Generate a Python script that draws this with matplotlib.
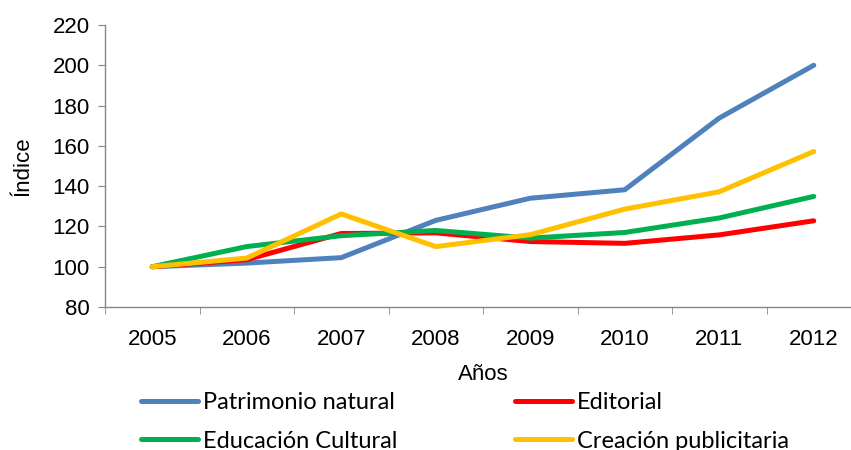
import matplotlib.pyplot as plt
import numpy as np

years = ['2005', '2006', '2007', '2008', '2009', '2010', '2011', '2012']
patrimonio = [100, 101.8, 104.5, 123, 134, 138.2, 173.8, 200]
editorial = [100, 103.5, 116.5, 116.8, 112.5, 111.6, 115.8, 122.8]
educacion = [100, 110, 115.4, 118, 114.2, 117, 124.2, 134.9]
creacion = [100, 104.3, 126.2, 110, 115.9, 128.6, 137.2, 157.2]

series = [
    ('Patrimonio natural', patrimonio, '#4F81BD'),
    ('Editorial', editorial, '#FF0000'),
    ('Educación Cultural', educacion, '#00B050'),
    ('Creación publicitaria', creacion, '#FFC000'),
]

plt.rcParams['font.family'] = ['Liberation Sans', 'DejaVu Sans']

fig = plt.figure(figsize=(8.51, 4.5), dpi=100)
ax = fig.add_axes([105 / 851, 1 - 307 / 450, 756 / 851, 282 / 450])

x = np.arange(len(years))
lines = []
for name, vals, color in series:
    ln, = ax.plot(x, vals, color=color, linewidth=3.6, label=name, solid_capstyle='round')
    lines.append(ln)

ax.set_ylim(80, 220)
ax.set_yticks(range(80, 221, 20))
ax.set_xlim(-0.5, len(years) - 0.5)
ax.set_xticks(x)
ax.set_xticklabels(years)
ax.set_xticks(np.arange(-0.5, len(years), 1), minor=True)

grey = '#868686'
for s in ['top', 'right']:
    ax.spines[s].set_visible(False)
for s in ['left', 'bottom']:
    ax.spines[s].set_color(grey)
    ax.spines[s].set_linewidth(1)
ax.tick_params(axis='y', direction='out', length=5, color=grey, labelsize=16, pad=6)
ax.tick_params(axis='x', which='major', length=0, labelsize=16, pad=16)
ax.tick_params(axis='x', which='minor', direction='out', length=5, color=grey)

ax.set_xlabel('Años', fontsize=16, labelpad=10)
ax.set_ylabel('Índice', fontsize=16, labelpad=14)

# row-major order like the original: matplotlib fills legend columns first
order = [0, 2, 1, 3]
fig.legend([lines[i] for i in order], [series[i][0] for i in order],
           loc='center left', bbox_to_anchor=(0.155, 0.063), ncol=2, frameon=False,
           prop={'family': 'Lato', 'size': 17}, handlelength=2.4, handletextpad=0.2,
           columnspacing=5.0, labelspacing=0.75, borderaxespad=0)

fig.savefig('out.png', dpi=100)
